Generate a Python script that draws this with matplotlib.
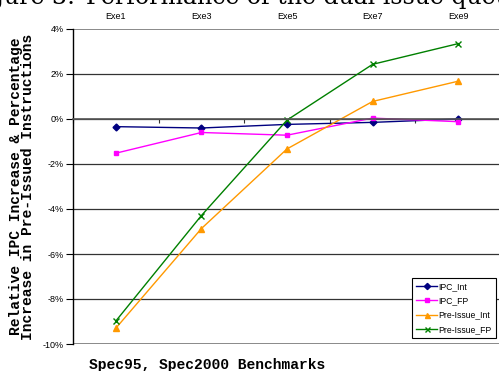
import numpy as np
import matplotlib.pyplot as plt

# benchmark groups along the category axis
labels = ['Exe1', 'Exe3', 'Exe5', 'Exe7', 'Exe9']

# percentage values
ipc_int = [-0.34, -0.40, -0.24, -0.15, 0.00]
ipc_fp = [-1.52, -0.60, -0.72, 0.04, -0.12]
pre_int = [-9.30, -4.87, -1.33, 0.78, 1.68]
pre_fp = [-8.98, -4.29, -0.05, 2.43, 3.35]

yticks = [4, 2, 0, -2, -4, -6, -8, -10]

W, H = 499, 371
fig = plt.figure(figsize=(W / 100, H / 100), dpi=100)
ax = fig.add_axes([73 / W, 1 - 344 / H, 428 / W, 315 / H])

x = np.arange(len(labels))
ax.plot(x, ipc_int, color='#000080', marker='D', ms=3.5, lw=1, label='IPC_Int')
ax.plot(x, ipc_fp, color='#FF00FF', marker='s', ms=3.5, lw=1, label='IPC_FP')
ax.plot(x, pre_int, color='#FF9900', marker='^', ms=4, lw=1, label='Pre-Issue_Int')
ax.plot(x, pre_fp, color='#008000', marker='x', ms=4, mew=1, lw=1, label='Pre-Issue_FP')

ax.set_xlim(-0.5, len(labels) - 0.5)
ax.set_ylim(-10, 4)

# y axis
ax.set_yticks(yticks)
ax.set_yticklabels(['%d%%' % v for v in yticks], fontsize=6.5, family='Liberation Sans')
ax.tick_params(axis='y', direction='out', length=5, width=0.8, pad=1.5, colors='black')
ax.yaxis.grid(True, color='#333333', lw=0.9)
for v, gl in zip(ax.get_yticks(), ax.get_ygridlines()):
    if v in (4, -10):
        gl.set_color('#808080')
        gl.set_linewidth(1.3)
ax.set_axisbelow(True)

# category axis crosses at zero, ticks between categories
ax.spines['top'].set_visible(False)
ax.spines['right'].set_visible(False)
ax.spines['bottom'].set_position(('data', 0))
ax.spines['bottom'].set_color('#555555')
ax.spines['bottom'].set_linewidth(1.2)
ax.spines['left'].set_linewidth(1)
ax.set_xticks(np.arange(len(labels) + 1) - 0.5)
ax.set_xticklabels([])
ax.tick_params(axis='x', direction='out', length=3, width=0.8, colors='#333333')

top = ax.secondary_xaxis('top')
top.set_xticks(x)
top.set_xticklabels(labels, fontsize=6.5, family='Liberation Sans')
top.tick_params(length=0, pad=5.5)
top.spines['top'].set_visible(False)

# axis titles
mono = dict(family='Liberation Mono', weight='bold')
fig.text(22 / W, 1 - 186.5 / H,
         'Relative IPC Increase & Percentage\nIncrease in Pre-Issued Instructions',
         rotation=90, ha='center', va='center', fontsize=10.5, linespacing=0.85, **mono)
fig.text(207 / W, 1 - 365 / H, 'Spec95, Spec2000 Benchmarks',
         ha='center', va='center', fontsize=10.5, **mono)

# caption cut off by the top edge
fig.text(75 / W, 1 - 4 / H, 'Figure 3:', ha='right', va='baseline',
         fontsize=17, family='DejaVu Serif')
fig.text(86 / W, 1 - 4 / H, 'Performance of the dual issue queue', ha='left',
         va='baseline', fontsize=17, family='DejaVu Serif')

leg = ax.legend(loc='upper left', bbox_to_anchor=(412 / W, 1 - 278 / H),
                bbox_transform=fig.transFigure,
                prop={'family': 'Liberation Sans', 'size': 6.2},
                fancybox=False, framealpha=1, edgecolor='black', borderpad=0.5,
                labelspacing=0.6, handlelength=2.4, handletextpad=0.2,
                borderaxespad=0, markerscale=0.9)
leg.get_frame().set_linewidth(0.8)

fig.savefig('out.png', dpi=100)
